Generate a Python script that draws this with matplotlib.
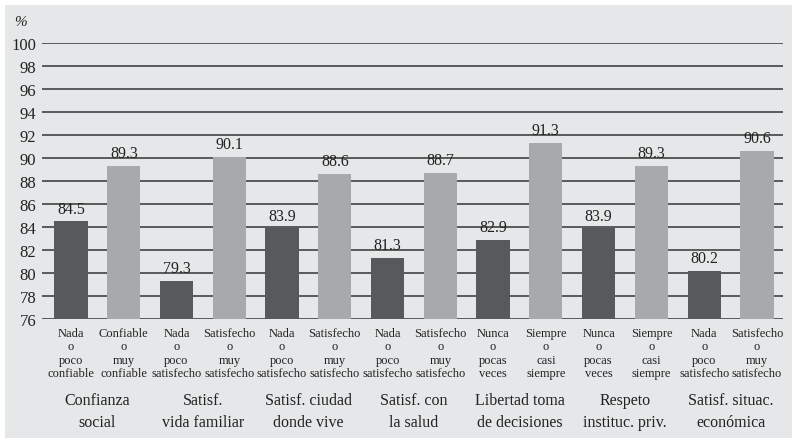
import numpy as np
import matplotlib.pyplot as plt
from matplotlib.patches import Rectangle

groups = ['Confianza\nsocial', 'Satisf.\nvida familiar', 'Satisf. ciudad\ndonde vive',
          'Satisf. con\nla salud', 'Libertad toma\nde decisiones', 'Respeto\ninstituc. priv.',
          'Satisf. situac.\neconómica']
low_labels = ['Nada\no\npoco\nconfiable', 'Nada\no\npoco\nsatisfecho', 'Nada\no\npoco\nsatisfecho',
              'Nada\no\npoco\nsatisfecho', 'Nunca\no\npocas\nveces', 'Nunca\no\npocas\nveces',
              'Nada\no\npoco\nsatisfecho']
high_labels = ['Confiable\no\nmuy\nconfiable', 'Satisfecho\no\nmuy\nsatisfecho', 'Satisfecho\no\nmuy\nsatisfecho',
               'Satisfecho\no\nmuy\nsatisfecho', 'Siempre\no\ncasi\nsiempre', 'Siempre\no\ncasi\nsiempre',
               'Satisfecho\no\nmuy\nsatisfecho']
low_vals = [84.5, 79.3, 83.9, 81.3, 82.9, 83.9, 80.2]
high_vals = [89.3, 90.1, 88.6, 88.7, 91.3, 89.3, 90.6]
yticks = list(range(76, 101, 2))

plt.rcParams['font.family'] = ['Liberation Serif', 'DejaVu Serif']

dark = '#58595b'
light = '#a7a9ac'
bg = '#e6e7e8'

fig = plt.figure(figsize=(7.92, 4.39), dpi=100)
fig.patch.set_facecolor('white')
fig.patches.append(Rectangle((5 / 792, 0), 1, 1 - 6 / 439, transform=fig.transFigure,
                             facecolor=bg, edgecolor='none', zorder=-10))

ax = fig.add_axes([0.053, 0.271, 0.936, 0.629])
ax.set_facecolor('none')

n = len(groups)
x_low = np.arange(n) * 2
x_high = x_low + 1
w = 0.63
ax.bar(x_low, np.array(low_vals) - 76, bottom=76, width=w, color=dark, zorder=3)
ax.bar(x_high, np.array(high_vals) - 76, bottom=76, width=w, color=light, zorder=3)

for x, v in zip(list(x_low) + list(x_high), low_vals + high_vals):
    ax.text(x, v + 0.4, f'{v:.1f}', ha='center', va='bottom', fontsize=11.5, color='#222222', zorder=4)

ax.set_ylim(76, 100)
ax.set_xlim(-0.55, 2 * n - 0.5)
ax.set_yticks(yticks)
ax.tick_params(axis='y', length=0, labelsize=12, pad=4, labelcolor='#222222')
ax.yaxis.grid(True, color='#333333', linewidth=1.1, zorder=1)
for s in ax.spines.values():
    s.set_visible(False)

ticks = []
labels = []
for i in range(n):
    ticks += [x_low[i], x_high[i]]
    labels += [low_labels[i], high_labels[i]]
ax.set_xticks(ticks)
ax.set_xticklabels(labels, fontsize=9, linespacing=1.12, color='#222222')
ax.tick_params(axis='x', length=0, pad=6)

for i, g in enumerate(groups):
    ax.text(x_low[i] + 0.5, -0.265, g, transform=ax.get_xaxis_transform(), ha='center', va='top',
            fontsize=11.5, linespacing=1.45, color='#222222')

ax.text(-0.02, 1.055, '%', transform=ax.transAxes, ha='right', va='bottom', fontsize=11,
        style='italic', color='#222222')

fig.savefig('out.png', dpi=100)
